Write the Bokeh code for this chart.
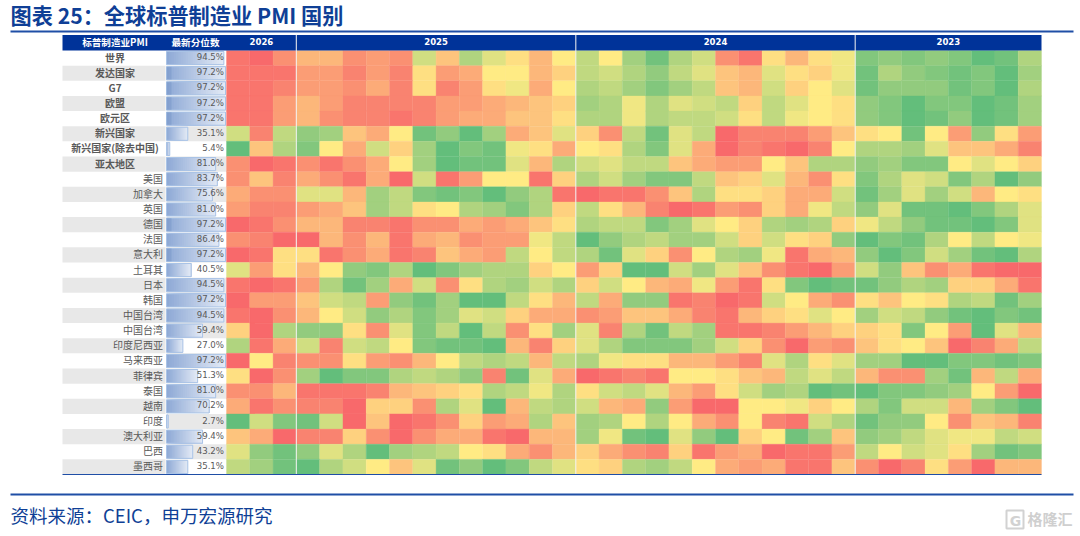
from bokeh.plotting import figure
from bokeh.models import ColumnDataSource, LinearColorMapper, Range1d
from bokeh.transform import transform
from bokeh.core.properties import value
from bokeh.embed import file_html
from bokeh.resources import INLINE

title = "图表 25：全球标普制造业 PMI 国别"
source_note = "资料来源：CEIC，申万宏源研究"
header_labels = ["标普制造业PMI", "最新分位数"]
year_labels = ["2026", "2025", "2024", "2023"]
year_spans = [3, 12, 12, 8]
regions = ["世界", "发达国家", "G7", "欧盟", "欧元区", "新兴国家", "新兴国家(除去中国)", "亚太地区",
           "美国", "加拿大", "英国", "德国", "法国", "意大利", "土耳其", "日本", "韩国", "中国台湾",
           "中国台湾", "印度尼西亚", "马来西亚", "菲律宾", "泰国", "越南", "印度", "澳大利亚", "巴西", "墨西哥"]
percentiles = [94.5, 97.2, 97.2, 97.2, 97.2, 35.1, 5.4, 81.0, 83.7, 75.6, 81.0, 97.2, 86.4, 97.2,
               40.5, 94.5, 97.2, 94.5, 59.4, 27.0, 97.2, 51.3, 81.0, 70.2, 2.7, 59.4, 43.2, 35.1]
# heat level per month (0 red, 10 yellow, 20 green), newest month first
heat_rows = [
 [1,0,3,6,6,3,4,3,13,7,15,12,9,6,10,14,10,16,19,15,13,3,1,9,6,9,11,18,17,18,17,18,20,19,15],
 [1,1,1,4,4,2,4,2,9,4,5,10,10,6,8,14,13,15,17,14,12,7,6,12,9,8,11,19,15,17,18,19,18,20,16],
 [1,1,2,4,4,3,5,2,9,2,4,9,11,5,10,15,14,16,18,16,14,7,6,13,8,10,12,19,17,17,17,19,18,20,15],
 [1,1,4,6,4,2,2,2,2,4,4,5,6,7,8,16,15,11,15,12,13,14,8,14,12,10,9,17,18,20,18,18,20,19,16],
 [1,1,4,6,3,2,2,1,2,4,5,5,7,7,9,15,15,11,15,14,14,13,9,14,11,10,9,17,18,20,19,17,20,19,16],
 [13,2,14,17,16,7,5,10,19,17,20,16,5,7,12,8,3,14,19,12,14,0,2,2,2,4,7,9,10,19,10,4,17,9,4],
 [20,7,15,18,10,5,13,8,16,20,18,19,11,9,5,10,9,15,18,12,5,0,2,1,0,2,10,15,15,16,12,7,7,5,2],
 [3,0,1,3,1,3,5,10,16,20,19,19,12,6,15,13,12,14,14,7,5,4,4,10,7,15,15,17,16,18,18,10,12,10,8],
 [3,7,2,5,3,1,5,0,13,1,4,10,10,1,8,15,13,16,18,18,14,7,8,12,6,3,9,18,15,12,13,18,15,20,17],
 [5,3,3,12,12,6,16,14,18,19,18,20,17,15,1,0,1,1,3,7,15,9,9,8,5,5,13,19,16,12,16,13,6,10,9],
 [4,2,2,4,5,7,16,14,9,10,15,16,18,15,8,14,9,6,2,0,1,4,3,8,5,11,14,17,12,19,19,20,18,15,12],
 [0,1,3,6,6,2,2,1,3,3,5,4,5,7,9,15,14,14,18,16,12,10,8,15,16,15,8,11,14,17,19,19,20,18,12],
 [3,2,0,0,6,3,6,1,5,6,3,4,4,11,14,20,17,15,14,16,16,13,8,13,9,8,17,20,18,19,15,10,14,10,11],
 [0,1,9,9,1,3,5,1,2,7,5,4,14,10,14,15,19,12,8,3,10,15,16,11,1,5,6,17,20,18,13,16,19,20,15],
 [12,4,9,6,10,17,18,15,20,18,16,15,15,8,10,4,8,20,20,13,16,12,7,3,1,0,4,13,17,7,3,5,1,0,0],
 [1,0,1,4,15,19,16,5,13,3,9,15,16,13,15,8,13,10,6,5,11,4,1,9,18,20,19,19,17,15,16,8,8,5,1],
 [0,4,4,7,13,14,4,17,19,16,20,20,14,9,6,14,5,17,17,1,2,0,1,13,10,5,3,9,7,10,9,15,14,19,16],
 [1,0,3,6,10,13,17,15,18,16,12,13,8,5,5,3,4,7,7,5,2,1,6,8,9,12,10,16,13,14,17,19,20,18,19],
 [8,0,15,17,17,9,3,12,18,14,20,14,3,9,16,12,2,15,19,14,16,1,1,2,4,6,8,8,9,18,10,4,20,12,6],
 [15,1,5,13,2,13,14,10,18,19,19,20,6,2,8,12,15,18,18,18,16,13,8,3,0,4,3,7,9,10,7,0,2,5,14],
 [0,10,2,3,3,9,4,3,6,10,14,15,14,6,14,15,11,9,9,6,6,4,2,12,15,9,12,16,16,20,20,18,18,19,18],
 [9,0,3,16,20,18,18,15,14,15,17,2,19,12,5,0,1,2,1,10,10,9,7,6,14,12,14,6,3,3,16,19,6,14,5],
 [3,3,6,1,1,1,2,6,7,8,9,15,14,11,15,9,13,14,12,6,4,9,13,16,15,20,19,20,18,18,17,16,10,4,0],
 [5,1,3,2,2,0,8,8,3,15,12,20,6,14,15,13,6,5,17,4,0,0,10,10,11,8,10,15,18,13,13,6,16,18,20],
 [20,13,18,19,13,0,7,0,1,3,8,4,5,15,7,16,15,10,15,10,5,3,10,2,1,13,15,19,17,17,10,3,7,6,2],
 [7,5,0,2,2,8,3,0,3,5,5,1,0,6,6,16,11,19,20,12,17,20,8,10,19,16,7,17,16,14,12,11,11,14,13],
 [12,17,19,17,12,15,20,16,15,14,10,9,5,3,6,8,5,3,2,8,1,4,5,0,1,1,4,14,10,13,12,9,16,19,18],
 [14,16,19,20,15,13,10,7,12,19,17,20,18,14,12,9,8,15,16,14,10,5,4,5,1,1,7,3,0,2,9,4,0,6,6],
]
stepped_bars = [1, 2, 3, 4, 11, 13]   # rows whose data bar shows a darker start

# page geometry (screen pixels)
LEFT, LABEL_R, BAR_L, HEAT_L, RIGHT = 62, 165, 166, 226, 1041
HEAD_T, HEAD_B, TABLE_B = 34.5, 50, 474
BAR_FULL = 60.7
N_ROW, N_COL = len(regions), len(heat_rows[0])
ROW_H = (TABLE_B - HEAD_B) / N_ROW
COL_W = (RIGHT - HEAT_L) / N_COL

p = figure(width=1080, height=536, x_range=Range1d(0, 1080), y_range=Range1d(536, 0),
           toolbar_location=None, output_backend="svg", x_axis_type=None, y_axis_type=None,
           min_border=0, outline_line_color=None, background_fill_color="white", border_fill_color="white")
p.grid.visible = False

CJK = value("Noto Sans CJK SC")
NAVY, BLUE, GREY_TXT, BAND = "#003399", "#1F4EA6", "#595959", "#E8E8E8"

# rows: bands
for r in range(N_ROW):
    t, b = HEAD_B + r * ROW_H, HEAD_B + (r + 1) * ROW_H
    if r % 2 == 1:
        p.quad(left=LEFT, right=LABEL_R, top=t, bottom=b, fill_color=BAND, line_color=None)
    if (r % 2 == 1) == (r <= 17):
        p.quad(left=BAR_L, right=HEAT_L, top=t, bottom=b, fill_color=BAND, line_color=None)

# heat cells through a three-colour scale
def lerp(a, b, f):
    return "#%02x%02x%02x" % tuple(round(a[i] + (b[i] - a[i]) * f) for i in range(3))
RED, YEL, GRN = (248, 105, 107), (255, 235, 132), (99, 190, 123)
palette = [lerp(RED, YEL, i / 127) for i in range(128)] + [lerp(YEL, GRN, i / 127) for i in range(128)]
mapper = LinearColorMapper(palette=palette, low=0, high=20)
cells = dict(l=[], r=[], t=[], b=[], v=[])
for r, row in enumerate(heat_rows):
    for c, v in enumerate(row):
        cells["l"].append(HEAT_L + c * COL_W)
        cells["r"].append(HEAT_L + (c + 1) * COL_W)
        cells["t"].append(HEAD_B + r * ROW_H)
        cells["b"].append(HEAD_B + (r + 1) * ROW_H)
        cells["v"].append(v)
p.quad(left="l", right="r", top="t", bottom="b", source=ColumnDataSource(cells),
       fill_color=transform("v", mapper), line_color=transform("v", mapper), line_width=0.3)

# data bars with a gradient: each strip runs to the bar's end and the next one paints over it
STEPS = 24
bars = dict(l=[], r=[], t=[], b=[], c=[])
for r, pct in enumerate(percentiles):
    w = pct / 100 * BAR_FULL
    for s in range(STEPS):
        bars["l"].append(BAR_L + w * s / STEPS)
        bars["r"].append(BAR_L + w)
        bars["t"].append(HEAD_B + r * ROW_H + 1)
        bars["b"].append(HEAD_B + (r + 1) * ROW_H - 1)
        bars["c"].append(lerp((143, 170, 214), (226, 233, 245), s / (STEPS - 1)))
p.quad(left="l", right="r", top="t", bottom="b", fill_color="c", line_color=None,
       source=ColumnDataSource(bars))
p.quad(left=[BAR_L] * N_ROW, right=[BAR_L + x / 100 * BAR_FULL for x in percentiles],
       top=[HEAD_B + r * ROW_H + 1 for r in range(N_ROW)],
       bottom=[HEAD_B + (r + 1) * ROW_H - 1 for r in range(N_ROW)],
       fill_color=None, line_color="#A9C3E6", line_width=1)
p.quad(left=[BAR_L] * len(stepped_bars), right=[BAR_L + 5] * len(stepped_bars),
       top=[HEAD_B + r * ROW_H + 1 for r in stepped_bars],
       bottom=[HEAD_B + (r + 1) * ROW_H - 1 for r in stepped_bars],
       fill_color="#6F8FC4", fill_alpha=0.35, line_color=None)

# header
p.quad(left=LEFT, right=RIGHT, top=HEAD_T, bottom=HEAD_B, fill_color=NAVY, line_color=None)
col_edge = 0
seps, year_x = [], []
for span in year_spans:
    year_x.append(HEAT_L + (col_edge + span / 2) * COL_W)
    col_edge += span
    if col_edge < N_COL:
        seps.append(HEAT_L + col_edge * COL_W)
p.segment(x0=seps, x1=seps, y0=[HEAD_T] * 3, y1=[TABLE_B] * 3, line_color="#F2F2F2", line_width=1.2, line_alpha=0.85)
hdr_y = (HEAD_T + HEAD_B) / 2 - 1
p.text(x=[(LEFT + LABEL_R) / 2 + 1, (BAR_L + HEAT_L) / 2 - 1], y=[hdr_y] * 2, text=header_labels, text_color="white",
       text_font=CJK, text_font_style="bold", text_font_size="9.6px", text_align="center", text_baseline="middle")
p.text(x=year_x, y=[hdr_y] * 4, text=year_labels, text_color="white", text_font=value("DejaVu Sans"),
       text_font_style="bold", text_font_size="8.5px", text_align="center", text_baseline="middle")

# row labels and percentile labels
row_y = [HEAD_B + (r + 0.5) * ROW_H - 1 for r in range(N_ROW)]
p.text(x=[(LEFT + LABEL_R) / 2 + 1] * 8, y=row_y[:8], text=regions[:8], text_color=GREY_TXT, text_font=CJK,
       text_font_style="bold", text_font_size="10px", text_align="center", text_baseline="middle")
p.text(x=[162.5] * (N_ROW - 8), y=row_y[8:], text=regions[8:], text_color=GREY_TXT, text_font=CJK,
       text_font_size="10px", text_align="right", text_baseline="middle")
p.text(x=[223.5] * N_ROW, y=row_y, text=["%.1f%%" % x for x in percentiles], text_color=GREY_TXT,
       text_font=value("DejaVu Sans"), text_font_size="8.6px", text_align="right", text_baseline="middle")

# table bottom, rules, title, footer
p.segment(x0=[LEFT], x1=[RIGHT], y0=[TABLE_B], y1=[TABLE_B], line_color=BLUE, line_width=1)
p.segment(x0=[10, 10], x1=[1073, 1073], y0=[31, 494], y1=[31, 494], line_color=BLUE, line_width=2)
p.text(x=[10], y=[13.5], text=[title], text_color="#0F3F96", text_font=CJK, text_font_style="bold",
       text_font_size="21.2px", text_align="left", text_baseline="middle")
p.text(x=[10], y=[514], text=[source_note], text_color="#0F3F96", text_font=CJK,
       text_font_size="18.5px", text_align="left", text_baseline="middle")

# watermark
p.rect(x=[1014.5], y=[519], width=[17], height=[18], fill_color=None, line_color="#D2D2D2", line_width=2)
p.text(x=[1015], y=[520], text=["G"], text_color="#D2D2D2", text_font=value("DejaVu Sans"), text_font_style="bold",
       text_font_size="14px", text_align="center", text_baseline="middle")
p.text(x=[1027], y=[518], text=["格隆汇"], text_color="#CFCFCF", text_font=CJK, text_font_style="bold",
       text_font_size="15px", text_align="left", text_baseline="middle")

open("out.html", "w").write(file_html(p, INLINE))
